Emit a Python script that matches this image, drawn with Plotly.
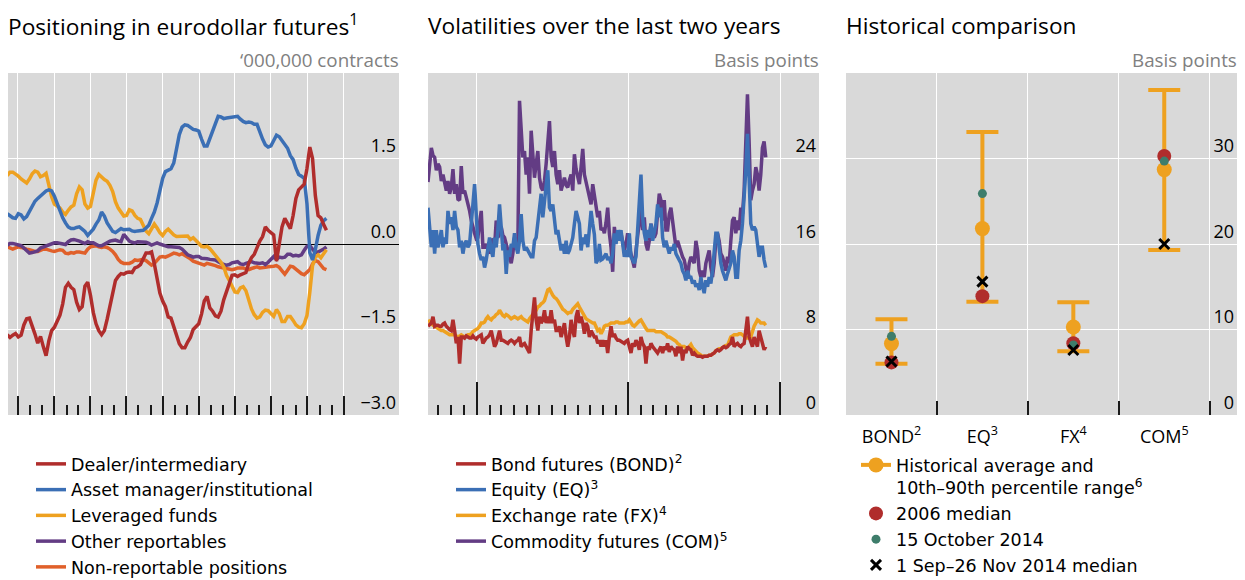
import pandas as pd
import plotly.graph_objects as go

W, H = 1245, 580

# ---------------- Panel 1: positioning in eurodollar futures (weekly, '000,000 contracts)
pos_start = "2012-09-04"
dealer = [-1.59, -1.64, -1.60, -1.57, -1.63, -1.60, -1.42, -1.31, -1.30, -1.42,
          -1.58, -1.74, -1.62, -1.80, -1.96, -1.70, -1.52, -1.46, -1.36, -1.25,
          -1.05, -0.76, -0.69, -0.76, -0.80, -1.02, -1.15, -1.10, -0.74, -0.67,
          -0.90, -1.20, -1.40, -1.52, -1.59, -1.52, -1.32, -1.10, -0.90, -0.64,
          -0.57, -0.52, -0.53, -0.50, -0.49, -0.50, -0.42, -0.40, -0.36, -0.25,
          -0.16, -0.16, -0.14, -0.35, -0.62, -0.86, -1.00, -1.10, -1.28, -1.30,
          -1.45, -1.62, -1.75, -1.82, -1.82, -1.72, -1.64, -1.50, -1.44, -1.40,
          -1.23, -1.00, -0.92, -1.12, -1.18, -1.26, -1.28, -1.18, -0.98, -0.82,
          -0.68, -0.55, -0.54, -0.57, -0.54, -0.52, -0.50, -0.34, -0.24, -0.18,
          -0.06, 0.05, 0.13, 0.30, 0.24, 0.20, 0.16, -0.30, 0.05, 0.30,
          0.45, 0.36, 0.27, 0.50, 0.80, 0.95, 1.01, 1.05, 1.33, 1.70,
          1.50, 0.85, 0.50, 0.46, 0.34, 0.24]
asset_manager = [0.53, 0.50, 0.46, 0.45, 0.53, 0.51, 0.44, 0.48, 0.58, 0.67,
                 0.75, 0.80, 0.84, 0.89, 0.93, 0.95, 0.93, 0.84, 0.70, 0.57,
                 0.46, 0.37, 0.30, 0.27, 0.27, 0.29, 0.30, 0.26, 0.22, 0.15,
                 0.20, 0.26, 0.35, 0.42, 0.56, 0.49, 0.37, 0.28, 0.22, 0.20,
                 0.24, 0.27, 0.25, 0.26, 0.26, 0.23, 0.22, 0.23, 0.23, 0.24,
                 0.28, 0.33, 0.45, 0.56, 0.72, 0.95, 1.15, 1.27, 1.30, 1.32,
                 1.42, 1.70, 1.92, 2.05, 2.09, 2.08, 2.04, 2.01, 2.00, 1.98,
                 1.84, 1.72, 1.72, 1.86, 2.00, 2.14, 2.24, 2.23, 2.20, 2.21,
                 2.22, 2.23, 2.24, 2.24, 2.19, 2.15, 2.13, 2.14, 2.13, 2.10,
                 2.10, 1.96, 1.84, 1.74, 1.70, 1.72, 1.81, 1.91, 1.88, 1.82,
                 1.75, 1.68, 1.55, 1.48, 1.33, 1.22, 1.19, 1.15, 0.70, -0.15,
                 -0.28, -0.10, 0.15, 0.33, 0.41, 0.45]
leveraged = [1.20, 1.26, 1.26, 1.23, 1.19, 1.14, 1.10, 1.07, 1.14, 1.23,
             1.28, 1.26, 1.18, 1.20, 1.24, 1.04, 0.83, 0.70, 0.66, 0.63,
             0.56, 0.52, 0.59, 0.65, 0.68, 0.88, 1.00, 0.95, 0.70, 0.63,
             0.66, 0.90, 1.12, 1.22, 1.17, 1.13, 1.10, 1.03, 0.92, 0.74,
             0.63, 0.57, 0.49, 0.50, 0.60, 0.58, 0.50, 0.45, 0.43, 0.33,
             0.23, 0.18, 0.28, 0.35, 0.28, 0.20, 0.15, 0.22, 0.26, 0.20,
             0.16, 0.13, 0.13, 0.13, 0.14, 0.14, 0.08, 0.11, 0.06, 0.02,
             -0.04, -0.05, -0.04, -0.08, -0.14, -0.19, -0.24, -0.32, -0.40, -0.55,
             -0.64, -0.75, -0.84, -0.85, -0.77, -0.75, -0.82, -0.98, -1.14, -1.24,
             -1.30, -1.28, -1.20, -1.16, -1.17, -1.22, -1.27, -1.15, -1.22, -1.36,
             -1.36, -1.27, -1.27, -1.34, -1.42, -1.46, -1.47, -1.40, -1.25, -0.85,
             -0.38, -0.23, -0.19, -0.24, -0.16, -0.10]
other_reportables = [-0.02, 0.01, 0.01, 0.00, -0.01, -0.03, -0.07, -0.12, -0.16, -0.15,
                     -0.14, -0.12, -0.07, -0.05, -0.04, -0.02, 0.01, 0.02, 0.02, 0.01,
                     -0.01, -0.01, 0.04, 0.07, 0.08, 0.07, 0.05, 0.03, 0.01, 0.04,
                     0.02, 0.02, 0.00, -0.03, -0.03, 0.00, 0.02, 0.05, 0.06, 0.07,
                     0.05, 0.04, 0.17, 0.10, 0.05, 0.03, 0.02, 0.04, 0.04, 0.04,
                     0.03, 0.01, -0.02, 0.00, 0.02, 0.00, -0.02, -0.04, -0.05, -0.05,
                     -0.05, -0.05, -0.06, -0.09, -0.15, -0.19, -0.21, -0.23, -0.22, -0.22,
                     -0.25, -0.25, -0.26, -0.27, -0.27, -0.28, -0.31, -0.34, -0.36, -0.37,
                     -0.36, -0.33, -0.32, -0.31, -0.35, -0.36, -0.34, -0.33, -0.31, -0.33,
                     -0.34, -0.34, -0.33, -0.36, -0.32, -0.26, -0.22, -0.27, -0.23, -0.24,
                     -0.23, -0.18, -0.18, -0.21, -0.20, -0.21, -0.19, -0.11, -0.04, -0.03,
                     -0.10, -0.15, -0.14, -0.12, -0.09, -0.05]
non_reportable = [-0.05, -0.07, -0.09, -0.07, -0.05, -0.06, -0.08, -0.09, -0.10, -0.12,
                  -0.13, -0.13, -0.11, -0.09, -0.09, -0.11, -0.12, -0.13, -0.12, -0.10,
                  -0.11, -0.16, -0.17, -0.15, -0.16, -0.14, -0.14, -0.15, -0.16, -0.09,
                  -0.05, -0.04, -0.03, -0.05, -0.06, -0.05, -0.06, -0.09, -0.13, -0.19,
                  -0.27, -0.32, -0.34, -0.34, -0.34, -0.32, -0.28, -0.29, -0.28, -0.27,
                  -0.29, -0.34, -0.37, -0.34, -0.29, -0.23, -0.22, -0.23, -0.21, -0.18,
                  -0.16, -0.17, -0.19, -0.17, -0.20, -0.22, -0.26, -0.30, -0.32, -0.34,
                  -0.36, -0.37, -0.34, -0.35, -0.37, -0.38, -0.40, -0.41, -0.42, -0.42,
                  -0.43, -0.45, -0.44, -0.42, -0.42, -0.42, -0.44, -0.45, -0.43, -0.41,
                  -0.40, -0.42, -0.42, -0.41, -0.40, -0.40, -0.39, -0.38, -0.41, -0.47,
                  -0.53, -0.46, -0.39, -0.40, -0.44, -0.48, -0.52, -0.54, -0.50, -0.45,
                  -0.35, -0.29, -0.31, -0.38, -0.43, -0.45]

# ---------------- Panel 2: volatilities (basis points, sampled every 4 days)
vol_start = "2012-09-06"
bond_vol = [8.3, 8.5, 8.6, 9.2, 8.3, 8.4, 8.4, 8.3, 8.3, 8.5,
            8.6, 8.3, 8.1, 8.0, 7.9, 8.9, 7.9, 6.7, 7.3, 4.8,
            7.3, 7.3, 7.2, 7.4, 7.3, 7.2, 7.2, 7.4, 7.2, 7.1,
            7.3, 7.4, 7.5, 6.7, 7.0, 7.2, 7.3, 7.5, 7.9, 7.0,
            6.4, 6.7, 7.3, 7.9, 7.0, 7.0, 6.9, 6.8, 6.7, 6.9,
            7.0, 6.9, 6.7, 6.9, 7.0, 7.3, 6.4, 6.6, 6.7, 6.4,
            6.1, 5.8, 7.9, 9.2, 11.0, 8.9, 7.9, 9.2, 8.6, 8.9,
            9.8, 8.6, 9.2, 8.6, 9.8, 8.6, 8.9, 7.9, 7.9, 8.3,
            7.3, 7.9, 8.6, 7.3, 6.4, 7.3, 8.9, 7.9, 7.3, 9.2,
            9.8, 8.6, 9.2, 8.6, 7.6, 8.6, 8.3, 7.3, 7.9, 7.6,
            7.3, 7.3, 6.7, 7.0,
            6.4, 7.0, 6.4, 7.0, 5.8, 7.3, 8.3, 7.3, 7.6, 7.2,
            7.0, 7.0, 6.9, 6.8, 6.7, 6.9, 7.0, 6.4, 5.8, 6.7,
            6.4, 7.0, 6.7, 6.1, 7.3, 6.7, 6.4, 4.8, 6.4, 6.1,
            6.7, 6.4, 6.2, 6.0, 5.8, 6.1, 6.4, 5.8, 6.4, 6.1,
            6.7, 5.9, 6.4, 6.2, 6.1, 5.5, 6.4, 5.8, 6.4, 5.1,
            6.1, 5.8, 6.4, 6.2, 6.1, 5.6, 5.8, 5.6, 5.5, 5.5,
            5.5, 5.4, 5.5, 5.5, 5.5, 5.6, 5.6, 5.7, 5.8, 6.0,
            6.1, 6.0, 6.1, 6.3, 6.4, 6.3, 6.4, 6.6, 6.7, 7.3,
            6.4, 6.6, 6.7, 6.5, 6.4, 6.6, 6.7, 7.9, 9.2, 7.3,
            6.7, 6.4, 7.3, 6.7, 6.4, 7.9, 7.3, 6.7, 6.1, 6.4]
equity_vol = [19.4, 16.9, 15.7, 17.3, 15.1, 17.3, 15.7, 16.3, 17.3, 15.7,
              16.6, 16.0, 19.1, 17.9, 18.5, 17.3, 19.1, 17.6, 17.3, 15.7,
              16.3, 15.1, 16.0, 16.3, 15.7, 16.0, 17.6, 19.7, 21.6, 18.8,
              16.0, 15.1, 14.5, 14.8, 13.8, 14.5, 15.4, 16.6, 15.4, 14.8,
              16.6, 15.7, 17.3, 19.7, 17.6, 15.4, 16.0, 13.2, 15.4, 14.8,
              16.0, 15.7, 17.0, 15.7, 15.1, 16.3, 18.8, 16.3, 15.4, 15.7,
              15.4, 15.1, 14.8, 14.8, 16.3, 16.6, 18.2, 19.4, 20.7, 18.5,
              20.0, 21.0, 22.9, 19.4, 19.1, 19.7, 18.5, 16.9, 17.3, 16.3,
              15.4, 16.0, 15.1, 16.3, 15.1, 15.4, 16.0, 16.6, 17.9, 19.1,
              18.5, 17.9, 15.4, 16.6, 16.0, 16.9, 15.7, 17.3, 19.1, 17.9,
              16.9, 14.2, 14.5, 16.0,
              14.5, 14.6, 14.8, 15.1, 14.5, 14.8, 14.2, 15.1, 17.0, 16.0,
              17.3, 16.3, 17.3, 15.7, 14.8, 15.4, 14.8, 17.0, 14.8, 14.5,
              14.2, 14.8, 17.9, 20.0, 22.5, 18.5, 17.0, 16.3, 17.3, 16.6,
              17.9, 16.3, 17.0, 17.9, 19.7, 18.5, 19.4, 16.6, 15.7, 16.3,
              15.7, 15.1, 15.7, 15.4, 16.0, 15.1, 14.8, 14.5, 14.2, 13.5,
              13.2, 12.6, 13.5, 12.9, 12.9, 12.3, 12.6, 12.0, 12.3, 11.7,
              12.9, 12.0, 11.4, 12.6, 12.0, 12.9, 12.3, 13.5, 15.4, 17.0,
              17.0, 15.4, 14.2, 13.5, 12.9, 12.6, 13.2, 13.8, 14.2, 15.4,
              14.8, 12.9, 12.9, 15.4, 16.3, 17.9, 20.0, 22.9, 26.3, 21.3,
              17.9, 17.3, 17.6, 17.3, 16.0, 14.8, 15.7, 15.7, 14.5, 13.8]
fx_vol = [8.9, 8.7, 8.6, 8.4, 8.3, 8.2, 8.1, 8.0, 7.9, 7.9,
          7.8, 7.7, 7.6, 7.5, 7.5, 7.5, 7.5, 7.4, 7.3, 7.4,
          7.5, 7.4, 7.3, 7.4, 7.5, 7.5, 7.6, 7.8, 7.9, 8.0,
          8.1, 8.3, 8.6, 8.6, 8.7, 9.0, 9.2, 9.0, 8.9, 9.1,
          9.2, 9.4, 9.5, 9.8, 9.5, 9.3, 9.2, 9.4, 9.3, 9.1,
          9.0, 9.1, 9.2, 9.1, 9.0, 9.1, 9.2, 9.0, 8.9, 8.8,
          8.7, 9.0, 9.2, 9.3, 9.5, 9.8, 10.1, 10.2, 10.4, 10.5,
          10.7, 11.2, 11.7, 11.8, 11.4, 11.2, 11.0, 10.9, 10.7, 10.4,
          10.1, 9.9, 9.8, 9.6, 9.5, 9.6, 9.6, 9.9, 10.1, 10.3,
          10.4, 10.1, 9.8, 9.5, 9.2, 9.0, 8.9, 8.8, 8.7, 8.6,
          8.6, 8.2, 7.9, 8.0,
          7.6, 7.9, 8.3, 8.4, 8.4, 8.5, 8.6, 8.6, 8.6, 8.7,
          8.7, 8.6, 8.6, 8.6, 8.6, 8.7, 8.7, 8.9, 8.6, 8.4,
          8.3, 8.5, 8.6, 8.8, 8.9, 8.6, 8.3, 8.1, 7.9, 7.9,
          7.9, 7.9, 7.9, 7.8, 7.8, 7.8, 7.8, 7.7, 7.6, 7.5,
          7.3, 7.3, 7.2, 7.1, 7.0, 6.9, 6.7, 6.6, 6.4, 6.4,
          6.4, 6.3, 6.2, 6.4, 6.6, 6.3, 6.1, 6.0, 5.8, 5.7,
          5.6, 5.5, 5.5, 5.5, 5.5, 5.6, 5.6, 5.7, 5.8, 6.0,
          6.1, 6.2, 6.2, 6.3, 6.4, 6.5, 6.5, 6.9, 7.3, 7.4,
          7.5, 7.5, 7.5, 7.6, 7.6, 7.5, 7.3, 7.2, 7.2, 7.3,
          7.3, 7.9, 8.3, 8.6, 8.9, 8.8, 8.6, 8.6, 8.6, 8.4]
commodity_vol = [21.8, 23.5, 25.0, 24.3, 24.1, 22.9, 23.5, 23.2, 21.9, 22.5,
                 21.6, 21.0, 21.9, 20.7, 21.3, 23.0, 20.7, 21.6, 20.2, 20.1,
                 23.3, 20.7, 21.0, 20.4, 19.7, 19.1, 18.2, 17.5, 17.0, 16.5,
                 16.6, 18.0, 19.1, 15.7, 15.7, 16.0, 15.5, 15.1, 16.5, 16.0,
                 15.7, 18.2, 16.6, 17.0, 17.6, 16.8, 16.6, 16.0, 15.4, 14.8,
                 14.2, 15.1, 16.6, 16.0, 15.7, 29.4, 27.2, 24.1, 24.7, 22.5,
                 24.1, 20.7, 26.6, 24.1, 22.2, 23.5, 24.7, 22.2, 21.3, 21.0,
                 21.9, 23.5, 26.0, 27.5, 24.1, 23.2, 24.7, 22.5, 21.6, 22.9,
                 21.0, 21.6, 22.2, 21.5, 21.3, 22.0, 22.5, 21.0, 24.4, 23.0,
                 22.2, 21.6, 23.2, 24.9, 22.5, 21.8, 21.3, 20.5, 19.7, 21.6,
                 20.7, 19.5, 18.5, 19.1,
                 17.3, 17.5, 17.0, 18.0, 19.4, 17.0, 15.7, 13.4, 17.6, 16.3,
                 16.6, 16.8, 17.0, 16.2, 15.4, 16.0, 17.0, 15.7, 15.1, 14.5,
                 13.8, 15.4, 17.0, 18.0, 19.4, 17.3, 18.5, 16.0, 15.4, 16.3,
                 17.9, 17.0, 16.6, 17.0, 18.5, 20.7, 20.1, 18.2, 20.1, 17.3,
                 17.3, 18.8, 19.4, 18.2, 17.3, 15.7, 16.3, 15.7, 15.4, 14.8,
                 14.5, 13.5, 12.9, 14.2, 14.8, 14.5, 14.2, 16.3, 15.4, 13.5,
                 12.9, 13.5, 12.9, 14.2, 14.8, 15.4, 13.8, 12.9, 14.2, 16.3,
                 17.0, 16.3, 15.1, 14.8, 14.2, 13.5, 14.8, 14.2, 16.3, 18.2,
                 18.5, 17.0, 18.2, 17.3, 19.4, 18.8, 21.0, 25.6, 30.0, 25.6,
                 20.1, 21.0, 21.6, 23.2, 22.5, 21.0, 22.5, 25.0, 25.6, 24.1]

# ---------------- Panel 3: historical comparison (basis points)
categories = ["BOND", "EQ", "FX", "COM"]
category_labels = ["BOND<sup>2</sup>", "EQ<sup>3</sup>", "FX<sup>4</sup>", "COM<sup>5</sup>"]
hist_average = [8.35, 21.8, 10.3, 28.7]
pct10 = [6.0, 13.25, 7.45, 19.3]
pct90 = [11.2, 33.1, 13.2, 38.0]
median_2006 = [6.15, 13.9, 8.4, 30.3]
oct15_2014 = [9.2, 25.9, 8.2, 29.7]
median_sep_nov_2014 = [6.25, 15.6, 7.6, 20.0]

# ---------------- styling
RED = "#b02d2c"
BLUE = "#3b6fb5"
ORANGE = "#eea120"
PURPLE = "#633c84"
DORANGE = "#e0602a"
GREEN = "#3e7d6b"
BG = "#d9d9d9"
TICKC = "#1a1a1a"
LW = 3.5

TICK_FONT = dict(family="Open Sans", size=18, color="black")
TITLE_FONT = dict(family="Open Sans", size=22.7, color="black")
UNIT_FONT = dict(family="Open Sans", size=18.8, color="#808080")
LEG_FONT = dict(family="DejaVu Sans", size=17.5, color="black")


def fx(p):
    return p / W


def fy(p):
    return 1 - p / H


P1 = [fx(8), fx(399)]
P2 = [fx(428), fx(819)]
P3 = [fx(846), fx(1237)]
YD = [fy(415), fy(73)]

pos_dates = pd.date_range(pos_start, periods=len(dealer), freq="7D")
vol_dates = pd.date_range(vol_start, periods=len(bond_vol), freq="4D")

fig = go.Figure()

pos_series = [
    ("Dealer/intermediary", dealer, RED),
    ("Asset manager/institutional", asset_manager, BLUE),
    ("Leveraged funds", leveraged, ORANGE),
    ("Other reportables", other_reportables, PURPLE),
    ("Non-reportable positions", non_reportable, DORANGE),
]
for rank, (name, vals, col) in reversed(list(enumerate(pos_series))):
    fig.add_trace(go.Scatter(
        x=pos_dates[:len(vals)], y=vals, name=name, mode="lines",
        line=dict(color=col, width=LW), xaxis="x", yaxis="y",
        legend="legend", legendrank=rank + 1))

vol_series = [
    ("Bond futures (BOND)<sup>2</sup>", bond_vol, RED),
    ("Equity (EQ)<sup>3</sup>", equity_vol, BLUE),
    ("Exchange rate (FX)<sup>4</sup>", fx_vol, ORANGE),
    ("Commodity futures (COM)<sup>5</sup>", commodity_vol, PURPLE),
]
for rank, (name, vals, col) in reversed(list(enumerate(vol_series))):
    fig.add_trace(go.Scatter(
        x=vol_dates[:len(vals)], y=vals, name=name, mode="lines",
        line=dict(color=col, width=LW), xaxis="x2", yaxis="y2",
        legend="legend2", legendrank=rank + 1))

# panel 3
xi = list(range(len(categories)))
gx, gy, gplus, gminus = [], [], [], []
for i in xi:
    if i:
        gx.append(i - 0.5); gy.append(None); gplus.append(None); gminus.append(None)
    gx.append(i)
    gy.append(hist_average[i])
    gplus.append(pct90[i] - hist_average[i])
    gminus.append(hist_average[i] - pct10[i])

fig.add_trace(go.Scatter(
    x=gx, y=gy, mode="lines+markers", connectgaps=False,
    name="Historical average and<br>10th\u201390th percentile range<sup>6</sup>",
    line=dict(color=ORANGE, width=4), marker=dict(size=15, color=ORANGE),
    error_y=dict(type="data", symmetric=False, array=gplus, arrayminus=gminus,
                 color=ORANGE, thickness=4, width=16),
    xaxis="x3", yaxis="y3", legend="legend3", legendrank=1))
fig.add_trace(go.Scatter(
    x=xi, y=median_2006, mode="markers", name="2006 median",
    marker=dict(size=14, color=RED), xaxis="x3", yaxis="y3",
    legend="legend3", legendrank=2))
fig.add_trace(go.Scatter(
    x=xi, y=oct15_2014, mode="markers", name="15 October 2014",
    marker=dict(size=9, color=GREEN), xaxis="x3", yaxis="y3",
    legend="legend3", legendrank=3))
fig.add_trace(go.Scatter(
    x=xi, y=median_sep_nov_2014, mode="markers", name="1 Sep\u201326 Nov 2014 median",
    marker=dict(symbol="x-thin", size=10, color="black",
                line=dict(color="black", width=3)),
    xaxis="x3", yaxis="y3", legend="legend3", legendrank=4))

# ---------------- axes
months = pd.date_range("2012-10-01", "2015-01-01", freq="MS")
quarters = pd.date_range("2012-10-01", "2015-01-01", freq="QS")
years = pd.date_range("2013-01-01", "2015-01-01", freq="YS")
mid_years = ["2013-07-01", "2014-07-01"]
year_text = ["2013", "2014"]

r1 = ["2012-09-06", "2015-05-20"]
r2 = ["2012-09-06", "2015-04-04"]

minor_months = dict(tickmode="array", tickvals=months, ticks="inside", ticklen=10,
                    tickwidth=1.5, tickcolor=TICKC, showgrid=False)
common_x = dict(type="date", showline=False, zeroline=False, showticklabels=False,
                ticks="inside", tickwidth=1.5, tickcolor=TICKC, tickmode="array")

layout_axes = dict(
    xaxis=dict(domain=P1, anchor="y", range=r1, tickvals=quarters, ticklen=19,
               showgrid=True, gridcolor="white", gridwidth=1.3, minor=minor_months, **common_x),
    xaxis4=dict(overlaying="x", anchor="y", range=r1, tickvals=years, ticklen=33,
                showgrid=False, **common_x),
    xaxis5=dict(overlaying="x", anchor="y", range=r1, type="date", tickmode="array",
                tickvals=mid_years, ticktext=year_text, ticks="", showgrid=False,
                zeroline=False, showline=False, tickfont=TICK_FONT, ticklabelstandoff=8),
    xaxis2=dict(domain=P2, anchor="y2", range=r2, tickvals=years, ticklen=33,
                showgrid=True, gridcolor="white", gridwidth=1.3, minor=minor_months, **common_x),
    xaxis6=dict(overlaying="x2", anchor="y2", range=r2, tickvals=quarters, ticklen=19,
                showgrid=False, **common_x),
    xaxis7=dict(overlaying="x2", anchor="y2", range=r2, type="date", tickmode="array",
                tickvals=mid_years, ticktext=year_text, ticks="", showgrid=False,
                zeroline=False, showline=False, tickfont=TICK_FONT, ticklabelstandoff=8),
    xaxis3=dict(domain=P3, anchor="y3", range=[-0.5, 3.8], tickmode="array",
                tickvals=xi, ticktext=category_labels, ticks="", showgrid=False,
                zeroline=False, showline=False, tickfont=TICK_FONT, ticklabelstandoff=9,
                minor=dict(tickmode="array", tickvals=[i + 0.5 for i in xi], ticks="inside",
                           ticklen=14, tickwidth=1.5, tickcolor=TICKC, showgrid=True,
                           gridcolor="white", gridwidth=1.3)),
    yaxis=dict(domain=YD, anchor="x", range=[-3, 3], side="right", tickmode="array",
               tickvals=[-3, -1.5, 0, 1.5], tickformat=".1f", ticklabelposition="inside top",
               ticks="", showgrid=True, gridcolor="white", gridwidth=1.3, zeroline=True,
               zerolinecolor="black", zerolinewidth=1.2, showline=False, tickfont=TICK_FONT),
    yaxis2=dict(domain=YD, anchor="x2", range=[0, 32], side="right", tickmode="array",
                tickvals=[0, 8, 16, 24], ticklabelposition="inside top", ticks="",
                showgrid=True, gridcolor="white", gridwidth=1.3, zeroline=False,
                showline=False, tickfont=TICK_FONT),
    yaxis3=dict(domain=YD, anchor="x3", range=[0, 40], side="right", tickmode="array",
                tickvals=[0, 10, 20, 30], ticklabelposition="inside top", ticks="",
                showgrid=True, gridcolor="white", gridwidth=1.3, zeroline=False,
                showline=False, tickfont=TICK_FONT),
)

leg_common = dict(xanchor="left", yanchor="top", font=LEG_FONT,
                  bgcolor="rgba(0,0,0,0)", tracegroupgap=0, traceorder="normal")

annotations = []
for xpos, text in [(6, "Positioning in eurodollar futures<sup>1</sup>"),
                   (426, "Volatilities over the last two years"),
                   (844, "Historical comparison")]:
    annotations.append(dict(x=fx(xpos), y=fy(25), xref="paper", yref="paper", text=text,
                            showarrow=False, xanchor="left", yanchor="middle", font=TITLE_FONT))
for xpos, text in [(401, "\u2018000,000 contracts"), (821, "Basis points"), (1239, "Basis points")]:
    annotations.append(dict(x=fx(xpos), y=fy(60), xref="paper", yref="paper", text=text,
                            showarrow=False, xanchor="right", yanchor="middle", font=UNIT_FONT))

fig.update_layout(
    width=W, height=H, autosize=False,
    margin=dict(l=0, r=0, t=0, b=0, autoexpand=False),
    paper_bgcolor="white", plot_bgcolor=BG,
    showlegend=True,
    legend=dict(x=fx(31), y=fy(446), **leg_common),
    legend2=dict(x=fx(451), y=fy(446), **leg_common),
    legend3=dict(x=fx(856), y=fy(447), valign="top", **leg_common),
    annotations=annotations,
    **layout_axes,
)

fig.write_html("out.html", config={"displayModeBar": False},
               post_script="document.body.style.margin='0px';")
